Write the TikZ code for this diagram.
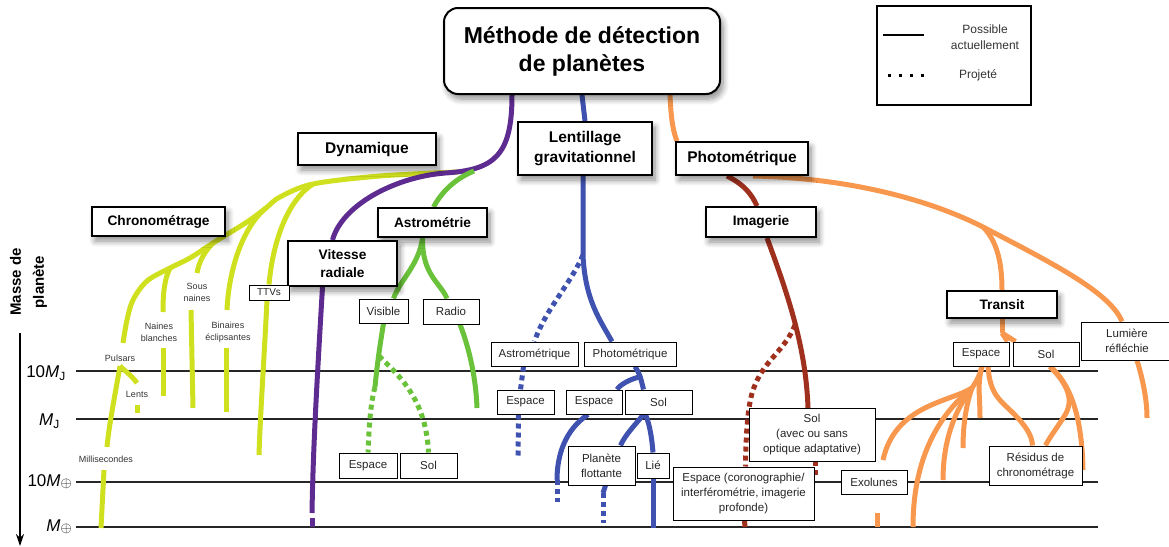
\documentclass[tikz,border=0pt]{standalone}
\usepackage{fontspec}
\setmainfont{Liberation Sans}
\usetikzlibrary{shadows.blur,arrows.meta}
\pgfdeclarelayer{bg}\pgfdeclarelayer{lanes}
\pgfsetlayers{bg,lanes,main}
\definecolor{cyel}{RGB}{207,224,30}
\definecolor{cpur}{RGB}{94,43,145}
\definecolor{cgrn}{RGB}{106,194,58}
\definecolor{cblu}{RGB}{63,82,176}
\definecolor{cred}{RGB}{160,48,30}
\definecolor{cora}{RGB}{248,152,78}
\tikzset{
  shad/.style={blur shadow={shadow xshift=3pt, shadow yshift=-5pt, shadow blur radius=6pt, shadow blur steps=8, shadow opacity=45}},
  titlebox/.style={draw, line width=2pt, rounded corners=14pt, fill=white, shad, align=center, inner sep=0pt,
    font=\bfseries\fontsize{23}{28}\selectfont, minimum width=276pt, minimum height=86pt},
  catbox/.style={draw, line width=2pt, fill=white, shad, align=center, inner sep=0pt,
    font=\bfseries\fontsize{15.5}{20}\selectfont},
  subbox/.style={catbox, font=\bfseries\fontsize{13.7}{18}\selectfont},
  smallbox/.style={draw, line width=1pt, fill=white, align=center, inner sep=0pt, text=black!85,
    font=\fontsize{11.5}{15}\selectfont},
  lab/.style={align=center, inner sep=0pt, text=black!80, font=\fontsize{9}{12}\selectfont},
  lane/.style={line width=5pt},
  proj/.style={line width=5pt, dash pattern=on 5pt off 4pt},
  hline/.style={line width=1.5pt, black!85},
  axlab/.style={inner sep=0pt, font=\fontsize{17}{17}\selectfont}
}
\begin{document}
\begin{tikzpicture}[x=1pt,y=-1pt]
\useasboundingbox (0,0) rectangle (1169,546);

% ---------- nodes ----------
\node[titlebox] (title) at (582,51) {Méthode de détection\\de planètes};
\node[catbox, minimum width=138pt, minimum height=32pt] (dyn) at (367,149) {Dynamique};
\node[catbox, minimum width=134pt, minimum height=53pt] (lens) at (585,148.5) {Lentillage\\gravitationnel};
\node[catbox, minimum width=132pt, minimum height=33pt] (phot) at (742,158.5) {Photométrique};

\node[subbox, minimum width=133pt, minimum height=29pt] (chrono) at (158.5,221.5) {Chronométrage};
\node[subbox, minimum width=109pt, minimum height=29pt] (astro) at (432.5,222.5) {Astrométrie};
\node[subbox, minimum width=109pt, minimum height=45pt] (vr) at (342.5,263.5) {Vitesse\\radiale};
\node[subbox, minimum width=110pt, minimum height=30pt] (imag) at (761,222) {Imagerie};
\node[subbox, minimum width=110pt, minimum height=27pt] (transit) at (1002,304.5) {Transit};

\node[smallbox, minimum width=40pt, minimum height=15pt, font=\fontsize{10}{12}\selectfont] (ttv) at (269,292.5) {TTVs};
\node[smallbox, minimum width=49pt, minimum height=24pt] (visible) at (383.5,311) {Visible};
\node[smallbox, minimum width=56pt, minimum height=25pt] (radio) at (451,311.5) {Radio};
\node[smallbox, minimum width=58pt, minimum height=25pt] (aesp) at (368,465.5) {Espace};
\node[smallbox, minimum width=57pt, minimum height=25pt] (asol) at (428.5,465.5) {Sol};

\node[smallbox, minimum width=87pt, minimum height=24pt] (lastro) at (534.5,354) {Astrométrique};
\node[smallbox, minimum width=92pt, minimum height=24pt] (lphot) at (630,354) {Photométrique};
\node[smallbox, minimum width=57pt, minimum height=24pt] (lesp1) at (525.5,402) {Espace};
\node[smallbox, minimum width=56pt, minimum height=24pt] (lesp2) at (594,402) {Espace};
\node[smallbox, minimum width=67pt, minimum height=24pt] (lsol) at (658.5,402) {Sol};
\node[smallbox, minimum width=67pt, minimum height=39pt] (pflot) at (601.5,465.5) {Planète\\flottante};
\node[smallbox, minimum width=32pt, minimum height=25pt] (lie) at (653,465.5) {Lié};

\node[smallbox, minimum width=126pt, minimum height=53pt] (isol) at (812,435) {Sol\\(avec ou sans\\optique adaptative)};
\node[smallbox, minimum width=141pt, minimum height=53pt] (iesp) at (743.5,493.5) {Espace (coronographie/\\interférométrie, imagerie\\profonde)};
\node[smallbox, minimum width=66pt, minimum height=24pt] (exol) at (874,482) {Exolunes};

\node[smallbox, minimum width=56pt, minimum height=24pt] (tesp) at (981,354) {Espace};
\node[smallbox, minimum width=66pt, minimum height=24pt] (tsol) at (1046,354) {Sol};
\node[smallbox, minimum width=92pt, minimum height=38pt] (lum) at (1127,341) {Lumière\\réfléchie};
\node[smallbox, minimum width=93pt, minimum height=39pt] (resid) at (1035.5,465.5) {Résidus de\\chronométrage};

% free labels
\node[lab] (pulsars) at (120,358) {Pulsars};
\node[lab] (lents) at (137,394) {Lents};
\node[lab] (milli) at (106,459) {Millisecondes};
\node[lab] (naines) at (159,332) {Naines\\blanches};
\node[lab] (sousn) at (197,292) {Sous\\naines};
\node[lab] (binai) at (228,332) {Binaires\\éclipsantes};

% legend
\node[draw, line width=1.8pt, minimum width=154pt, minimum height=99pt, inner sep=0pt] (legend) at (954,55.5) {};
\node[align=center, inner sep=0pt, text=black!80, font=\fontsize{12}{16}\selectfont] (leg1) at (985,37) {Possible\\actuellement};
\node[inner sep=0pt, text=black!80, font=\fontsize{12}{16}\selectfont] (leg2) at (978,75) {Projeté};
\coordinate (ls1) at (883,35); \coordinate (ls2) at (924,35);
\coordinate (ld1) at (887.5,75); \coordinate (ld2) at (925,75);
\draw[line width=2.5pt] (ls1) -- (ls2);
\draw[line width=3pt, dash pattern=on 3pt off 8pt] (ld1) -- (ld2);

% axis
\node[rotate=90, align=center, inner sep=0pt, font=\bfseries\fontsize{15}{23}\selectfont] (axname) at (28.5,282) {Masse de\\planète};
\coordinate (axtop) at (20,333); \coordinate (axbot) at (20,546);
\draw[line width=1.5pt, -{Stealth[length=12pt,width=8pt]}] (axtop) -- (axbot);
\node[axlab, anchor=east] (l1) at (66,373) {10\textit{M}\textsubscript{J}};
\node[axlab, anchor=east] (l2) at (60,421) {\textit{M}\textsubscript{J}};
\node[axlab, anchor=east] (l3) at (72,482) {10\textit{M}\raisebox{-1pt}{\fontsize{15}{15}\selectfont$\oplus$}};
\node[axlab, anchor=east] (l4) at (72,527) {\textit{M}\raisebox{-1pt}{\fontsize{15}{15}\selectfont$\oplus$}};

% ---------- horizontal mass lines ----------
\begin{pgfonlayer}{bg}
\foreach \yy/\nm in {371/a,419/b,482/c,527/d}{
  \coordinate (h\nm1) at (76,\yy); \coordinate (h\nm2) at (1098,\yy);
  \draw[hline] (h\nm1) -- (h\nm2);
}
\end{pgfonlayer}

% ---------- lanes ----------
\begin{pgfonlayer}{lanes}
% yellow (dynamique / chronometrage)
\coordinate (yA) at (458,172);
\coordinate (yB) at (313,184);
\coordinate (yC) at (266,208);
\coordinate (yD) at (213,243);
\coordinate (yE) at (170,268);
\coordinate (yF) at (123,343);
\draw[lane, cyel] plot[smooth, tension=0.55] coordinates {(yA) (380,176) (yB) (280,197) (yC) (247,222) (yD) (190,258) (yE) (147,281) (133,300) (127,320) (yF)};
\draw[lane, cyel] (yB) .. controls (288,200) and (273,240) .. (ttv.north);
\draw[lane, cyel] ([xshift=-2pt]ttv.south) .. controls (264,360) and (260,420) .. (259,455);
\draw[lane, cyel] (yC) .. controls (245,225) and (229,265) .. (227,310);
\draw[lane, cyel] (226,348) -- (226,412);
\draw[lane, cyel] (yD) .. controls (204,252) and (199,262) .. (197,273);
\draw[lane, cyel] (191,310) -- (193,408);
\draw[lane, cyel] (yE) .. controls (164,280) and (163,295) .. (163,312);
\draw[lane, cyel] (163,348) -- (163,396);
\coordinate (yP) at (120,366);
\draw[lane, cyel] (yP) .. controls (115,395) and (109,425) .. (107,447);
\draw[lane, cyel] (yP) .. controls (125,371) and (132,376) .. (137,383);
\draw[lane, cyel] (137,405) -- (137,413);
\draw[lane, cyel] (104,470) -- (101,528);

% purple (vitesse radiale)
\coordinate (pJ) at (445,173);
\draw[lane, cpur] ([xshift=-70pt]title.south) .. controls (512,155) and (495,170) .. (pJ)
   .. controls (395,177) and (342,205) .. ([xshift=-10pt]vr.north);
\draw[lane, cpur] ([xshift=-20pt]vr.south) .. controls (317,380) and (313,450) .. (312,513);
\draw[lane, cpur] (312,518) -- (312,527);

% green (astrometrie)
\draw[lane, cgrn] (474,171) .. controls (452,180) and (440,195) .. ([xshift=1pt]astro.north);
\coordinate (gJ) at ([xshift=-10pt]astro.south);
\draw[lane, cgrn] (gJ) .. controls (419,265) and (400,280) .. ([xshift=10pt]visible.north);
\draw[lane, cgrn] (gJ) .. controls (422,275) and (440,282) .. ([xshift=-4pt]radio.north);
\draw[lane, cgrn] ([xshift=9pt]radio.south) .. controls (470,350) and (476,380) .. (477,408);
\draw[lane, cgrn] (visible.south) .. controls (380,345) and (377,365) .. (375,387);
\draw[proj, cgrn] (375,387) .. controls (370,405) and (369,430) .. (aesp.north);
\draw[proj, cgrn] (379,356) .. controls (398,375) and (426,398) .. (asol.north);

% blue (lentillage)
\coordinate (bJ) at (583,255);
\draw[lane, cblu] (title.south) -- (lens.north);
\draw[lane, cblu] ([xshift=-2pt]lens.south) -- (bJ) .. controls (585,300) and (600,320) .. ([xshift=-18pt]lphot.north);
\draw[proj, cblu] (bJ) .. controls (570,285) and (545,310) .. (lastro.north);
\draw[proj, cblu] ([xshift=-11pt]lastro.south) -- ([xshift=-5pt]lesp1.north);
\draw[proj, cblu] ([xshift=-7pt]lesp1.south) -- (518,458);
\coordinate (bK) at (639,377);
\draw[lane, cblu] ([xshift=5pt]lphot.south) .. controls (640,375) .. ([xshift=-15pt]lsol.north);
\draw[lane, cblu] (bK) .. controls (628,380) and (620,385) .. ([xshift=23pt]lesp2.north);
\draw[lane, cblu] ([xshift=-6pt]lesp2.south) .. controls (565,430) and (557,455) .. (557,480);
\draw[proj, cblu] (557,480) -- (557,502);
\draw[lane, cblu] ([xshift=-15pt]lsol.south) .. controls (635,425) and (625,435) .. ([xshift=19pt]pflot.north);
\draw[lane, cblu] ([xshift=-13pt]lsol.south) .. controls (650,425) and (652,440) .. (lie.north);
\draw[lane, cblu] ([xshift=4pt]pflot.south) -- (603,493);
\draw[proj, cblu] (603,493) -- (603,523);
\draw[lane, cblu] (lie.south) -- (653,528);

% dark red (imagerie)
\draw[lane, cred] ([xshift=-15pt]phot.south) .. controls (745,185) and (752,195) .. ([xshift=-4pt]imag.north);
\draw[lane, cred] ([xshift=6pt]imag.south) .. controls (790,300) and (806,350) .. ([xshift=-4pt]isol.north);
\draw[proj, cred] (795,325) .. controls (785,350) and (765,360) .. (755,385)
   .. controls (748,400) and (746,430) .. ([xshift=2pt]iesp.north);
\draw[lane, cred] ([xshift=1pt]iesp.south) -- (745,527);
\draw[proj, cred] (815,461) -- (815,478);

% orange (photometrique / transit)
\draw[lane, cora] ([xshift=88pt]title.south) .. controls (671,122) and (674,134) .. ([xshift=2pt]phot.north west);
\coordinate (oJ) at (983,227);
\draw[lane, cora] ([xshift=11pt]phot.south) .. controls (850,178) and (930,200) .. (oJ)
   .. controls (1050,262) and (1110,292) .. ([xshift=-5pt]lum.north);
\draw[lane, cora] ([xshift=10pt]lum.south) .. controls (1143,380) and (1147,400) .. (1147,418);
\draw[lane, cora] (oJ) .. controls (996,240) and (1002,260) .. (transit.north);
\coordinate (tJ) at (1002,333);
\draw[lane, cora] (transit.south) -- (tJ);
\draw[lane, cora] (tJ) -- ([xshift=-2pt]tesp.north east);
\draw[lane, cora] (tJ) -- ([xshift=3pt]tsol.north west);
\coordinate (fJ) at (972,388);
\coordinate (tE) at ([xshift=1pt]tesp.south);
\draw[lane, cora] (tE) .. controls (980,375) and (976,382) .. (fJ);
\draw[lane, cora] (fJ) .. controls (950,402) and (895,405) .. (883,460);
\draw[lane, cora] (fJ) .. controls (945,410) and (913,450) .. (913,527);
\draw[lane, cora] (fJ) .. controls (955,410) and (943,440) .. (943,480);
\draw[lane, cora] (fJ) .. controls (966,405) and (963,425) .. (963,448);
\draw[lane, cora] (tE) .. controls (977,385) and (980,395) .. (980,418);
\draw[lane, cora] ([xshift=7pt]tesp.south) .. controls (990,395) and (1000,400) .. (1013,413)
   .. controls (1025,425) and (1032,435) .. ([xshift=-3pt]resid.north);
\coordinate (tS) at ([xshift=4pt]tsol.south);
\draw[lane, cora] (tS) .. controls (1068,385) and (1074,400) .. (1065,415)
   .. controls (1057,428) and (1049,438) .. ([xshift=10pt]resid.north);
\draw[lane, cora] (tS) .. controls (1072,385) and (1082,420) .. (1083,470);
\draw[lane, cora] (877,513) -- (877,527);
\end{pgfonlayer}
\end{tikzpicture}
\end{document}
